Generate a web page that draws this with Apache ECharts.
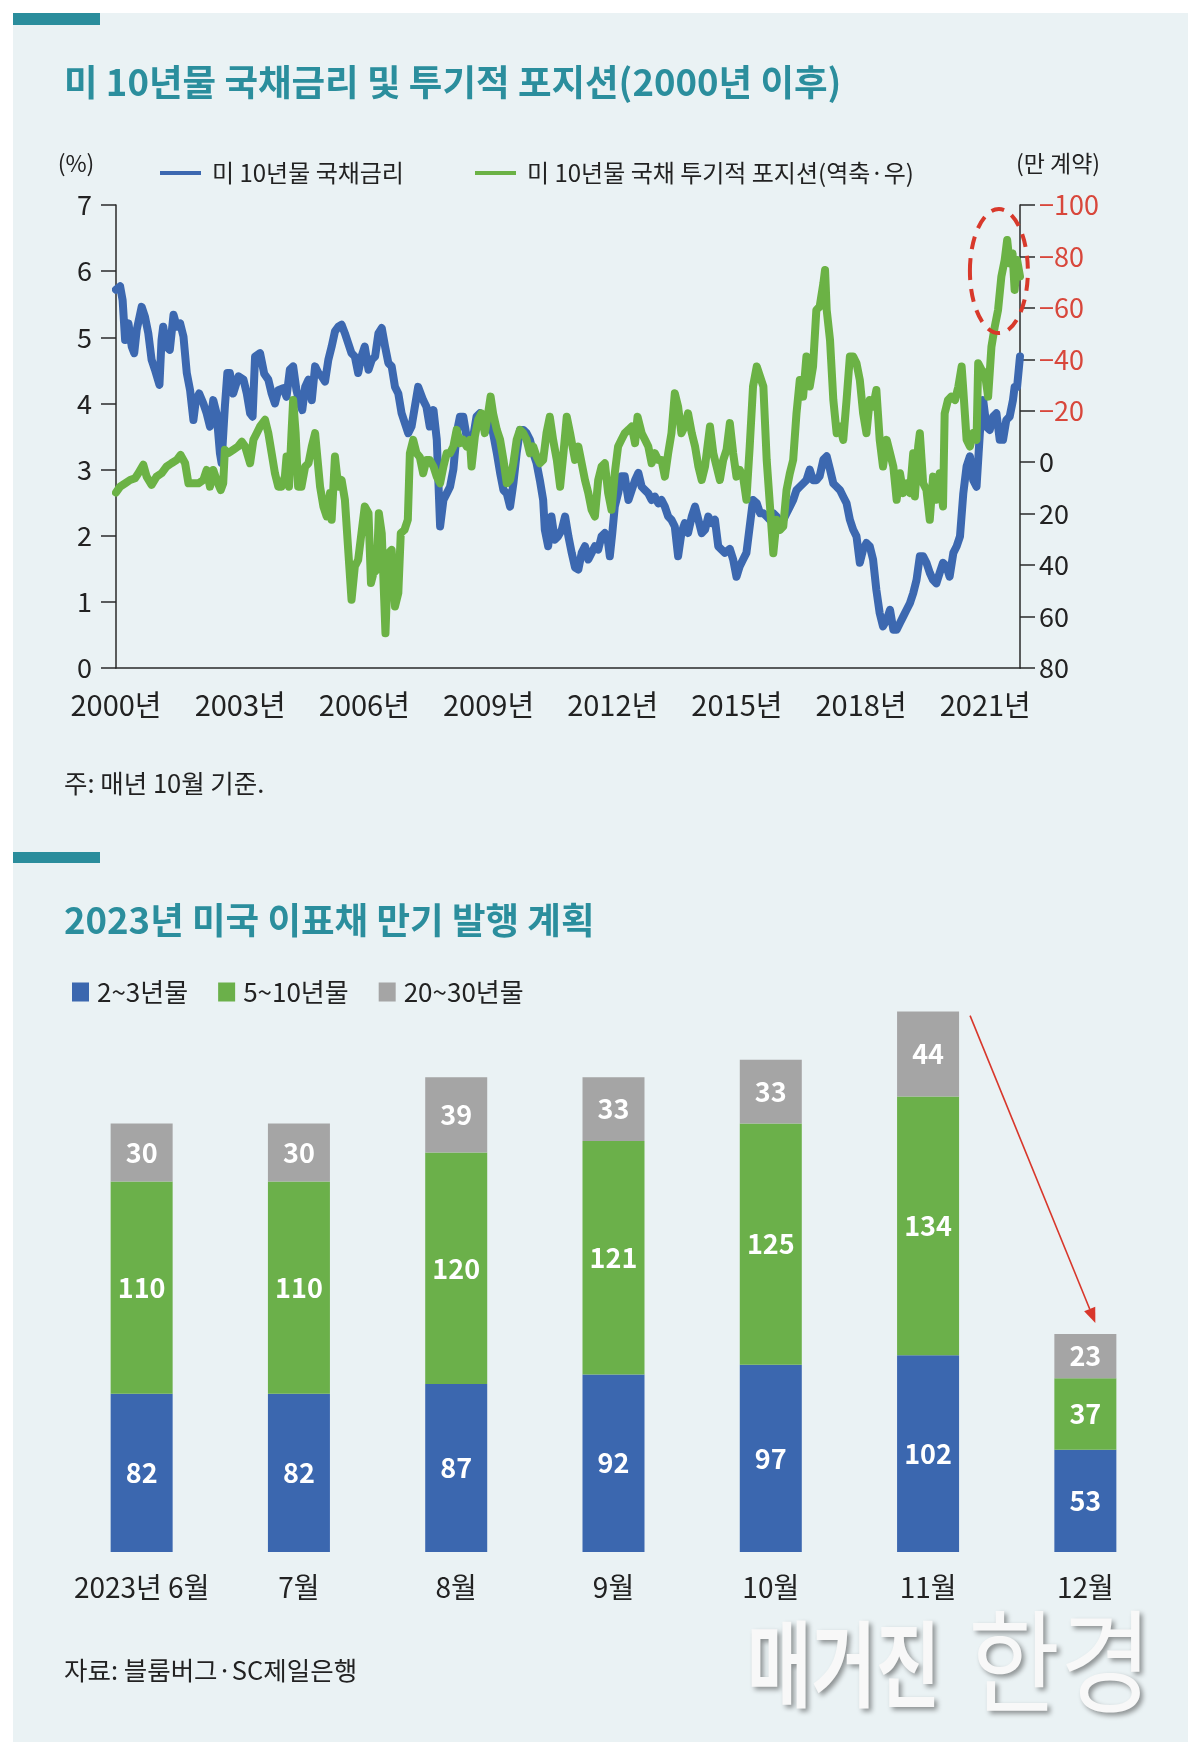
<!DOCTYPE html>
<html><head><meta charset="utf-8">
<script src="https://cdn.jsdelivr.net/npm/echarts@6/dist/echarts.min.js"></script>
<style>html,body{margin:0;padding:0;background:#fff}#c{width:1200px;height:1754px}</style>
</head><body><div id="c"></div>
<script>
// ---------- Chart 1 data: US 10y yield (%) and speculative position (10k contracts, inverted right axis) ----------
const rateYears = [2000.00,2000.10,2000.16,2000.22,2000.30,2000.38,2000.44,2000.50,2000.62,2000.70,2000.78,2000.86,2000.94,2001.05,2001.10,2001.14,2001.22,2001.30,2001.39,2001.47,2001.55,2001.63,2001.71,2001.79,2001.87,2001.93,2002.01,2002.11,2002.19,2002.27,2002.35,2002.43,2002.51,2002.55,2002.63,2002.69,2002.75,2002.83,2002.96,2003.08,2003.16,2003.24,2003.30,2003.36,2003.48,2003.58,2003.68,2003.76,2003.84,2003.92,2004.04,2004.12,2004.20,2004.28,2004.36,2004.44,2004.50,2004.57,2004.65,2004.73,2004.81,2004.89,2004.97,2005.05,2005.13,2005.21,2005.29,2005.37,2005.45,2005.53,2005.61,2005.69,2005.77,2005.85,2005.93,2006.01,2006.10,2006.18,2006.26,2006.34,2006.42,2006.50,2006.58,2006.66,2006.74,2006.82,2006.90,2006.98,2007.06,2007.14,2007.22,2007.30,2007.42,2007.50,2007.58,2007.67,2007.75,2007.79,2007.83,2007.91,2007.99,2008.07,2008.15,2008.23,2008.31,2008.39,2008.47,2008.55,2008.63,2008.71,2008.79,2008.87,2008.95,2009.03,2009.11,2009.20,2009.28,2009.36,2009.44,2009.52,2009.60,2009.68,2009.76,2009.84,2009.92,2010.00,2010.08,2010.16,2010.24,2010.32,2010.36,2010.44,2010.52,2010.60,2010.68,2010.77,2010.85,2010.93,2011.01,2011.09,2011.17,2011.25,2011.33,2011.41,2011.49,2011.57,2011.65,2011.73,2011.81,2011.89,2011.93,2011.99,2012.05,2012.13,2012.21,2012.29,2012.38,2012.46,2012.54,2012.62,2012.70,2012.78,2012.86,2012.94,2013.02,2013.10,2013.18,2013.26,2013.34,2013.42,2013.50,2013.58,2013.66,2013.74,2013.82,2013.91,2013.99,2014.07,2014.15,2014.23,2014.31,2014.39,2014.47,2014.55,2014.63,2014.71,2014.83,2014.91,2014.99,2015.07,2015.15,2015.23,2015.31,2015.39,2015.48,2015.56,2015.64,2015.72,2015.80,2015.88,2015.96,2016.04,2016.12,2016.20,2016.28,2016.36,2016.44,2016.52,2016.60,2016.68,2016.76,2016.84,2016.92,2017.00,2017.09,2017.17,2017.25,2017.33,2017.41,2017.49,2017.57,2017.65,2017.73,2017.81,2017.89,2017.97,2018.05,2018.13,2018.21,2018.29,2018.37,2018.45,2018.53,2018.62,2018.70,2018.78,2018.86,2018.94,2019.02,2019.10,2019.18,2019.26,2019.34,2019.42,2019.50,2019.58,2019.66,2019.74,2019.82,2019.90,2019.98,2020.06,2020.14,2020.23,2020.31,2020.39,2020.47,2020.55,2020.63,2020.71,2020.79,2020.87,2020.95,2021.03,2021.11,2021.19,2021.27,2021.35,2021.43,2021.51,2021.59,2021.67,2021.71,2021.77,2021.84];
const rateValues = [5.72,5.77,5.56,4.96,5.21,4.86,4.76,5.11,5.46,5.31,5.06,4.66,4.51,4.28,4.96,5.16,4.86,4.81,5.34,5.16,5.21,5.01,4.46,4.20,3.75,4.05,4.15,4.00,3.85,3.65,4.05,3.85,3.25,3.10,3.95,4.46,4.46,4.15,4.41,4.36,4.15,3.85,3.80,4.71,4.76,4.45,4.36,4.15,4.00,4.20,4.23,4.10,4.51,4.56,4.20,4.00,3.90,4.25,4.36,4.05,4.56,4.46,4.41,4.33,4.66,4.86,5.09,5.16,5.19,5.06,4.91,4.76,4.71,4.46,4.71,4.86,4.51,4.66,4.71,5.06,5.14,4.86,4.61,4.56,4.25,4.15,3.85,3.70,3.55,3.65,3.95,4.25,4.05,3.95,3.65,3.90,3.45,2.79,2.14,2.54,2.64,2.74,3.00,3.55,3.80,3.80,3.50,3.45,3.50,3.80,3.85,3.65,3.60,3.80,3.55,3.25,2.95,2.69,2.64,2.44,2.79,3.25,3.60,3.60,3.55,3.45,3.25,3.10,2.84,2.54,2.09,1.84,2.29,1.94,1.99,2.09,2.29,1.99,1.74,1.52,1.49,1.74,1.84,1.64,1.74,1.84,1.79,1.99,2.04,1.89,1.69,2.04,2.44,2.64,2.90,2.90,2.54,2.69,2.84,2.95,2.74,2.69,2.64,2.54,2.59,2.49,2.54,2.44,2.29,2.24,2.14,1.69,2.04,2.19,2.04,2.29,2.44,2.24,2.04,2.09,2.29,2.19,2.24,1.84,1.79,1.74,1.80,1.64,1.38,1.54,1.64,1.74,2.14,2.54,2.49,2.34,2.34,2.29,2.24,2.34,2.29,2.19,2.24,2.34,2.44,2.54,2.69,2.74,2.79,2.84,3.00,2.84,2.84,2.90,3.15,3.20,3.00,2.79,2.74,2.69,2.59,2.49,2.24,2.09,1.99,1.59,1.79,1.89,1.84,1.64,1.18,0.83,0.63,0.73,0.88,0.58,0.58,0.68,0.78,0.88,0.98,1.13,1.33,1.69,1.69,1.59,1.44,1.33,1.28,1.44,1.59,1.54,1.38,1.74,1.84,1.99,2.64,3.05,3.20,2.84,2.74,3.55,4.05,3.65,3.60,3.80,3.85,3.45,3.45,3.75,3.80,4.05,4.25,4.25,4.71];

const positionYears = [2000.00,2000.10,2000.22,2000.34,2000.46,2000.54,2000.66,2000.74,2000.86,2000.98,2001.10,2001.22,2001.34,2001.47,2001.56,2001.67,2001.75,2001.87,2001.99,2002.11,2002.19,2002.27,2002.35,2002.43,2002.53,2002.59,2002.63,2002.71,2002.83,2002.95,2003.04,2003.12,2003.24,2003.32,2003.40,2003.48,2003.60,2003.68,2003.76,2003.84,2003.92,2004.00,2004.08,2004.12,2004.18,2004.24,2004.28,2004.34,2004.40,2004.48,2004.57,2004.65,2004.73,2004.81,2004.87,2004.93,2005.01,2005.09,2005.17,2005.21,2005.29,2005.37,2005.45,2005.53,2005.61,2005.69,2005.77,2005.85,2005.93,2006.01,2006.10,2006.16,2006.22,2006.30,2006.35,2006.42,2006.48,2006.51,2006.58,2006.66,2006.74,2006.82,2006.88,2006.97,2007.05,2007.10,2007.18,2007.26,2007.34,2007.42,2007.50,2007.58,2007.67,2007.75,2007.83,2007.91,2007.99,2008.07,2008.15,2008.23,2008.31,2008.39,2008.47,2008.55,2008.59,2008.67,2008.75,2008.83,2008.91,2008.99,2009.05,2009.11,2009.20,2009.28,2009.36,2009.44,2009.52,2009.60,2009.68,2009.76,2009.84,2009.92,2010.00,2010.08,2010.16,2010.24,2010.32,2010.40,2010.48,2010.56,2010.65,2010.73,2010.81,2010.89,2010.97,2011.09,2011.17,2011.25,2011.33,2011.41,2011.49,2011.57,2011.65,2011.73,2011.81,2011.89,2011.97,2012.05,2012.13,2012.21,2012.29,2012.38,2012.46,2012.54,2012.60,2012.70,2012.78,2012.86,2012.94,2013.02,2013.10,2013.18,2013.26,2013.34,2013.42,2013.50,2013.58,2013.66,2013.74,2013.82,2013.91,2013.99,2014.07,2014.15,2014.23,2014.31,2014.35,2014.43,2014.51,2014.59,2014.67,2014.75,2014.83,2014.91,2014.99,2015.07,2015.15,2015.23,2015.31,2015.39,2015.48,2015.56,2015.64,2015.72,2015.80,2015.88,2015.96,2016.04,2016.12,2016.20,2016.28,2016.36,2016.44,2016.52,2016.60,2016.68,2016.76,2016.84,2016.92,2017.00,2017.09,2017.13,2017.17,2017.25,2017.33,2017.41,2017.49,2017.57,2017.65,2017.73,2017.81,2017.89,2017.97,2018.05,2018.13,2018.21,2018.29,2018.37,2018.45,2018.53,2018.62,2018.70,2018.78,2018.86,2018.94,2019.02,2019.10,2019.18,2019.26,2019.30,2019.38,2019.42,2019.50,2019.58,2019.66,2019.74,2019.82,2019.90,2019.98,2020.02,2020.10,2020.18,2020.27,2020.35,2020.43,2020.47,2020.55,2020.63,2020.71,2020.79,2020.83,2020.91,2020.99,2021.07,2021.15,2021.23,2021.31,2021.39,2021.47,2021.53,2021.59,2021.66,2021.71,2021.77,2021.84];
const positionValues = [11.8,9.5,8.2,6.9,6.2,4.3,1.0,5.6,8.8,5.6,4.3,1.7,0.4,-0.9,-2.8,0.4,8.2,8.2,8.2,6.9,3.0,9.5,3.0,6.9,10.8,8.2,-4.8,-3.5,-4.8,-6.1,-8.0,-6.1,0.4,-8.7,-11.3,-13.9,-16.5,-11.3,-3.5,4.3,9.5,9.5,5.6,-2.2,9.5,-11.3,-24.2,-11.3,9.5,9.5,1.7,0.4,-6.1,-11.3,-0.9,9.5,17.2,21.1,12.0,22.4,-2.2,9.5,6.9,14.6,34.1,53.5,40.5,38.0,27.6,17.2,19.8,47.0,43.1,41.8,19.8,27.6,53.5,66.5,35.4,34.1,56.1,50.9,27.6,26.3,22.4,-3.5,-8.7,-3.5,-2.0,4.3,-0.9,-0.9,1.7,5.6,8.2,1.7,-3.5,-3.5,-6.1,-12.6,-7.4,-8.7,-6.1,-8.7,1.7,-10.0,-16.5,-19.0,-11.3,-19.0,-25.5,-19.0,-12.6,-8.7,-0.9,8.2,6.9,0.4,-8.7,-12.6,-11.3,-8.7,-3.5,-6.1,-2.2,0.4,-0.9,-11.3,-17.7,-8.7,-0.9,9.5,-3.5,-17.7,-11.3,-0.9,-6.1,0.4,6.9,12.0,18.5,21.1,6.9,1.7,0.4,12.0,18.5,4.3,-6.1,-8.7,-11.3,-12.6,-13.9,-7.4,-17.7,-11.3,-8.7,-6.1,0.4,-3.5,-0.9,-0.9,5.6,-3.5,-11.3,-26.8,-21.6,-11.3,-13.9,-19.0,-11.3,-6.1,1.7,6.9,1.7,-8.7,-13.9,-3.5,1.7,6.9,-0.9,-4.8,-15.2,-3.5,5.6,3.0,5.6,14.6,-6.1,-29.4,-37.2,-33.3,-29.4,-0.9,17.2,35.4,22.4,26.3,25.0,10.8,4.3,-0.9,-19.0,-32.0,-25.5,-41.1,-29.4,-37.2,-59.2,-60.5,-69.6,-74.7,-59.2,-47.5,-24.2,-11.3,-13.9,-8.7,-24.2,-41.1,-41.1,-38.5,-32.0,-19.0,-11.3,-24.2,-21.6,-28.1,-8.7,1.7,-8.7,-3.5,1.7,14.6,4.3,12.0,8.2,12.0,-3.5,13.3,-6.1,-11.3,8.2,10.8,22.4,5.6,14.6,4.3,17.2,-19.0,-24.2,-25.5,-24.2,-29.4,-37.2,-28.1,-8.7,-6.1,-11.3,-8.7,-38.5,-35.9,-34.6,-25.5,-44.9,-52.7,-59.2,-72.2,-78.6,-86.4,-77.3,-81.2,-67.0,-78.6,-72.2];

const BASE_YEAR = 2000;
const YEAR_STEP = 3;
const rateTicks = [0, 1, 2, 3, 4, 5, 6, 7];
const positionTicks = [-100, -80, -60, -40, -20, 0, 20, 40, 60, 80];
const highlight = { year: 2021.33, position: -74.3, halfYears: 0.70, halfPos: 24.1 };

// ---------- Chart 2 data: 2023 US coupon issuance plan ----------
const months = ['2023년 6월', '7월', '8월', '9월', '10월', '11월', '12월'];
const shortTerm = [82, 82, 87, 92, 97, 102, 53];
const midTerm = [110, 110, 120, 121, 125, 134, 37];
const longTerm = [30, 30, 39, 33, 33, 44, 23];
const barNames = ['2~3년물', '5~10년물', '20~30년물'];
const lineNames = ['미 10년물 국채금리', '미 10년물 국채 투기적 포지션(역축·우)'];

// ---------- styling ----------
const FONT = "'Noto Sans CJK KR', 'Noto Sans', sans-serif";
const C_BLUE_LINE = '#3C68B0', C_GREEN_LINE = '#6BB245';
const C_BLUE = '#3B67AF', C_GREEN = '#6BB04A', C_GRAY = '#A5A5A5';
const C_TEAL = '#2A8D9C', C_RED = '#D8473B', C_AXIS = '#2a2a2a', C_TEXT = '#222';

const rateSeries = rateYears.map((y, i) => [y - BASE_YEAR, rateValues[i]]);
const positionSeries = positionYears.map((y, i) => [y - BASE_YEAR, positionValues[i]]);
const xMax = Math.max(rateYears[rateYears.length - 1], positionYears[positionYears.length - 1]) - BASE_YEAR;

const chart = echarts.init(document.getElementById('c'), null, { renderer: 'canvas', width: 1200, height: 1754 });
const axisLineStyle = { color: C_AXIS, width: 1.5 };

const textEl = (text, x, y, size, opts) => Object.assign({
  type: 'text', x: x, y: y,
  style: Object.assign({ text: text, fill: C_TEXT, fontSize: size, fontFamily: FONT, verticalAlign: 'middle', align: 'left' }, (opts && opts.style) || {})
}, (opts && opts.el) || {});

const barLabel = { show: true, position: 'inside', color: '#fff', fontSize: 27, fontWeight: 'bold', fontFamily: FONT };

const option = {
  animation: false,
  backgroundColor: '#ffffff',
  textStyle: { fontFamily: FONT },
  grid: [
    { left: 116, top: 205, width: 904, height: 463 },
    { left: 63, top: 973, width: 1101, height: 579 }
  ],
  legend: [
    { left: 160, top: 161, padding: 0, data: [lineNames[0]], icon: 'rect', itemWidth: 41, itemHeight: 4,
      textStyle: { fontSize: 24, color: C_TEXT, fontFamily: FONT, padding: [0, 0, 0, 6] } },
    { left: 475, top: 161, padding: 0, data: [lineNames[1]], icon: 'rect', itemWidth: 41, itemHeight: 4,
      textStyle: { fontSize: 24, color: C_TEXT, fontFamily: FONT, padding: [0, 0, 0, 6] } },
    { left: 72, top: 979, padding: 0, data: barNames, icon: 'rect', itemWidth: 17, itemHeight: 19, itemGap: 30,
      textStyle: { fontSize: 26, color: C_TEXT, fontFamily: FONT, padding: [0, 0, 0, 3] } }
  ],
  xAxis: [
    { type: 'value', gridIndex: 0, min: 0, max: xMax, interval: YEAR_STEP,
      axisLine: { onZero: false, lineStyle: axisLineStyle }, axisTick: { show: false }, splitLine: { show: false },
      axisLabel: { fontSize: 29, color: C_TEXT, margin: 22, showMaxLabel: false,
        formatter: v => (Math.abs(v % YEAR_STEP) < 1e-6 ? (BASE_YEAR + Math.round(v)) + '년' : '') } },
    { type: 'category', gridIndex: 1, data: months,
      axisLine: { show: false }, axisTick: { show: false },
      axisLabel: { fontSize: 28, color: C_TEXT, margin: 21, interval: 0 } }
  ],
  yAxis: [
    { type: 'value', gridIndex: 0, min: rateTicks[0], max: rateTicks[rateTicks.length - 1], interval: 1, position: 'left',
      axisLine: { show: true, onZero: false, lineStyle: axisLineStyle },
      axisTick: { show: true, length: 15, lineStyle: axisLineStyle }, splitLine: { show: false },
      axisLabel: { fontSize: 27, color: C_TEXT, margin: 24 } },
    { type: 'value', gridIndex: 0, min: positionTicks[0], max: positionTicks[positionTicks.length - 1], interval: 20,
      inverse: true, position: 'right',
      axisLine: { show: true, onZero: false, lineStyle: axisLineStyle },
      axisTick: { show: true, length: 15, lineStyle: axisLineStyle }, splitLine: { show: false },
      axisLabel: { fontSize: 27, margin: 19,
        color: v => (parseFloat(v) < 0 ? C_RED : C_TEXT),
        formatter: v => String(v).replace('-', '−') } },
    { type: 'value', gridIndex: 1, min: 0, max: 300, show: false }
  ],
  series: [
    { name: lineNames[0], type: 'line', xAxisIndex: 0, yAxisIndex: 0, data: rateSeries,
      showSymbol: false, symbol: 'none', color: C_BLUE_LINE, itemStyle: { color: C_BLUE_LINE },
      lineStyle: { width: 8, color: C_BLUE_LINE, join: 'round', cap: 'round' }, z: 2 },
    { name: lineNames[1], type: 'line', xAxisIndex: 0, yAxisIndex: 1, data: positionSeries,
      showSymbol: false, symbol: 'none', color: C_GREEN_LINE, itemStyle: { color: C_GREEN_LINE },
      lineStyle: { width: 8, color: C_GREEN_LINE, join: 'round', cap: 'round' }, z: 3 },
    { name: barNames[0], type: 'bar', xAxisIndex: 1, yAxisIndex: 2, stack: 'issue', data: shortTerm, barWidth: 62,
      itemStyle: { color: C_BLUE }, label: barLabel },
    { name: barNames[1], type: 'bar', xAxisIndex: 1, yAxisIndex: 2, stack: 'issue', data: midTerm, barWidth: 62,
      itemStyle: { color: C_GREEN }, label: barLabel },
    { name: barNames[2], type: 'bar', xAxisIndex: 1, yAxisIndex: 2, stack: 'issue', data: longTerm, barWidth: 62,
      itemStyle: { color: C_GRAY }, label: barLabel }
  ]
};
chart.setOption(option);

// ---------- decorations (panel, titles, notes, annotations) ----------
const totals = shortTerm.map((v, i) => v + midTerm[i] + longTerm[i]);
const barHalf = 31;
const pA = chart.convertToPixel({ xAxisIndex: 1, yAxisIndex: 2 }, [months[5], totals[5]]);
const pB = chart.convertToPixel({ xAxisIndex: 1, yAxisIndex: 2 }, [months[6], totals[6]]);
const a0 = [pA[0] + barHalf + 11, pA[1] + 4];
const a1 = [pB[0] + 10, pB[1] - 11];
const dx = a1[0] - a0[0], dy = a1[1] - a0[1], len = Math.hypot(dx, dy);
const ux = dx / len, uy = dy / len, headL = 15, headW = 6;
const base = [a1[0] - ux * headL, a1[1] - uy * headL];
const head = [a1, [base[0] - uy * headW, base[1] + ux * headW], [base[0] + uy * headW, base[1] - ux * headW]];

const eC = chart.convertToPixel({ xAxisIndex: 0, yAxisIndex: 1 }, [highlight.year - BASE_YEAR, highlight.position]);
const eE = chart.convertToPixel({ xAxisIndex: 0, yAxisIndex: 1 }, [highlight.year - BASE_YEAR + highlight.halfYears, highlight.position + highlight.halfPos]);

const wmShadow = { textShadowColor: 'rgba(0,0,0,0.4)', textShadowBlur: 5, textShadowOffsetX: 3, textShadowOffsetY: 3 };

chart.setOption({
  graphic: [
    { type: 'rect', z: -100, shape: { x: 13, y: 13, width: 1175, height: 1729 }, style: { fill: '#EAF2F4' } },
    { type: 'rect', z: -90, shape: { x: 13, y: 13, width: 87, height: 12 }, style: { fill: C_TEAL } },
    { type: 'rect', z: -90, shape: { x: 13, y: 852, width: 87, height: 11 }, style: { fill: C_TEAL } },
    textEl('미 10년물 국채금리 및 투기적 포지션(2000년 이후)', 64, 82, 36.5, { style: { fill: '#2B8E9D', fontWeight: 'bold' } }),
    textEl('2023년 미국 이표채 만기 발행 계획', 64, 920, 36.5, { style: { fill: '#2B8E9D', fontWeight: 'bold' } }),
    textEl('(%)', 76, 163, 23, { style: { align: 'center' } }),
    textEl('(만 계약)', 1058, 163, 23, { style: { align: 'center' } }),
    textEl('주: 매년 10월 기준.', 64, 783, 25.5),
    textEl('자료: 블룸버그·SC제일은행', 64, 1670, 25.5),
    textEl('매거진', 747, 1664, 70, { el: { scaleY: 1.35, z: 5 }, style: Object.assign({ fill: '#f8f8f8', fontWeight: 'bold' }, wmShadow) }),
    textEl('한경', 968, 1661, 100, { el: { scaleY: 1.12, z: 5 }, style: Object.assign({ fill: '#f8f8f8', fontWeight: 'normal' }, wmShadow) }),
    { type: 'ellipse', z: 10, shape: { cx: eC[0], cy: eC[1], rx: Math.abs(eE[0] - eC[0]), ry: Math.abs(eE[1] - eC[1]) },
      style: { fill: 'none', stroke: '#D8392B', lineWidth: 4, lineDash: [13, 9] } },
    { type: 'line', z: 10, shape: { x1: a0[0], y1: a0[1], x2: base[0], y2: base[1] }, style: { stroke: '#D8372B', lineWidth: 1.6 } },
    { type: 'polygon', z: 10, shape: { points: head }, style: { fill: '#D8372B' } }
  ]
});
</script>
</body></html>
